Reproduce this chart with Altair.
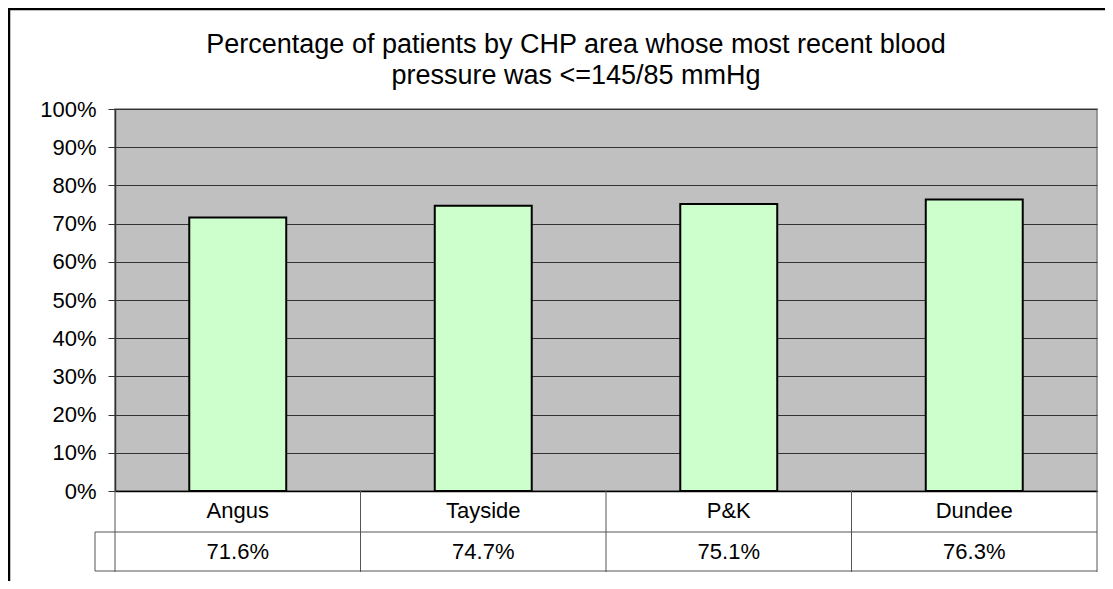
import altair as alt
import pandas as pd

categories = ["Angus", "Tayside", "P&K", "Dundee"]
values = [0.716, 0.747, 0.751, 0.763]
value_labels = ["71.6%", "74.7%", "75.1%", "76.3%"]
title_lines = [
    "Percentage of patients by CHP area whose most recent blood",
    "pressure was <=145/85 mmHg",
]
y_ticks = [0, 0.1, 0.2, 0.3, 0.4, 0.5, 0.6, 0.7, 0.8, 0.9, 1.0]

df = pd.DataFrame({"area": categories, "pct": values, "label": value_labels})
one = pd.DataFrame({"k": [0]})
title_df = pd.DataFrame({"line": title_lines, "row": [0, 1]})

W, H = 982, 382
FONT = "Liberation Sans"
GRIDC = "#333333"
TABLEC = "#555555"

xenc = alt.X(
    "area:N",
    sort=categories,
    scale=alt.Scale(paddingInner=0, paddingOuter=0),
    axis=alt.Axis(title=None, labels=False, ticks=False, domain=True,
                  domainColor="black", domainWidth=1.5, grid=False),
)

bars = alt.Chart(df).mark_bar(
    width=alt.RelativeBandSize(0.395), fill="#CCFFCC", stroke="black", strokeWidth=2
).encode(
    x=xenc,
    y=alt.Y(
        "pct:Q",
        scale=alt.Scale(domain=[0, 1]),
        axis=alt.Axis(
            title=None, values=y_ticks, format=".0%", labelFontSize=22,
            labelFont=FONT, labelColor="black", tickColor=GRIDC, tickSize=7,
            labelPadding=12, grid=True, gridColor=GRIDC, gridWidth=1,
            domainColor=GRIDC, domainWidth=1.5,
        ),
    ),
)

cat_text = alt.Chart(df).mark_text(fontSize=22, font=FONT, baseline="middle", color="black").encode(
    x=alt.X("area:N", sort=categories), y=alt.value(402), text="area:N"
)
val_text = alt.Chart(df).mark_text(fontSize=22, font=FONT, baseline="middle", color="black").encode(
    x=alt.X("area:N", sort=categories), y=alt.value(443), text="label:N"
)

dividers = alt.Chart(df).mark_rule(color=TABLEC, strokeWidth=1).encode(
    x=alt.X("area:N", sort=categories, bandPosition=0), y=alt.value(H), y2=alt.value(463)
)
right_edge = alt.Chart(one).mark_rule(color=TABLEC, strokeWidth=1).encode(
    x=alt.value(W), y=alt.value(H), y2=alt.value(463)
)
hline1 = alt.Chart(one).mark_rule(color=TABLEC, strokeWidth=1).encode(
    x=alt.value(-20), x2=alt.value(W), y=alt.value(423)
)
hline2 = alt.Chart(one).mark_rule(color=TABLEC, strokeWidth=1).encode(
    x=alt.value(-20), x2=alt.value(W), y=alt.value(462)
)
left_cell = alt.Chart(one).mark_rule(color=TABLEC, strokeWidth=1).encode(
    x=alt.value(-20), y=alt.value(423), y2=alt.value(462)
)

border_left = alt.Chart(one).mark_rule(color="black", strokeWidth=2.5).encode(
    x=alt.value(-106), y=alt.value(-100), y2=alt.value(H + 95)
)
border_top = alt.Chart(one).mark_rule(color="black", strokeWidth=2.5).encode(
    x=alt.value(-107), x2=alt.value(W + 10), y=alt.value(-100)
)

title1 = alt.Chart(title_df).transform_filter("datum.row == 0").mark_text(
    fontSize=27, font=FONT, align="center", baseline="alphabetic", color="black"
).encode(x=alt.value(461), y=alt.value(-56), text="line:N")
title2 = alt.Chart(title_df).transform_filter("datum.row == 1").mark_text(
    fontSize=27, font=FONT, align="center", baseline="alphabetic", color="black"
).encode(x=alt.value(461), y=alt.value(-25), text="line:N")

chart = alt.layer(
    bars, dividers, right_edge, hline1, hline2, left_cell,
    cat_text, val_text, border_left, border_top, title1, title2,
).properties(
    width=W, height=H,
    autosize=alt.AutoSizeParams(type="none"),
    padding={"left": 107, "top": 101, "right": 8, "bottom": 90},
    background="white",
).configure(font=FONT).configure_view(
    fill="#C0C0C0", stroke="#808080", strokeWidth=1.5
)

chart.save("out.html", embed_options={"renderer": "svg", "actions": False})
